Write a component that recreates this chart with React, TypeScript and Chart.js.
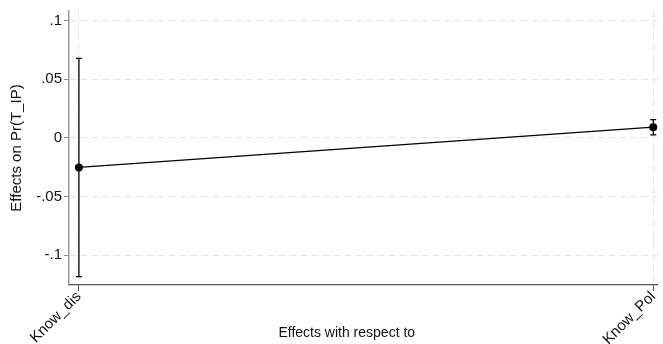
import React, { useEffect, useRef } from "react";
import { Chart, registerables } from "chart.js";

Chart.register(...registerables);

const categories = ["Know_dis", "Know_Pol"];
const effects = [-0.0253, 0.009];
const ciLower = [-0.1183, 0.0025];
const ciUpper = [0.0677, 0.0155];
const yTickValues = [-0.1, -0.05, 0, 0.05, 0.1];
const yTickLabels = ["-.1", "-.05", "0", ".05", ".1"];
const xTitle = "Effects with respect to";
const yTitle = "Effects on Pr(T_IP)";

const FONT = "'Liberation Sans', Arial, Helvetica, sans-serif";

const errorBarPlugin = {
  id: "errorBars",
  afterDatasetsDraw(chart: any) {
    const xs = chart.scales.x;
    const ys = chart.scales.y;
    const ctx = chart.ctx;
    ctx.save();
    ctx.strokeStyle = "#000";
    ctx.lineWidth = 1.3;
    const cap = 3;
    categories.forEach((_, i) => {
      const px = xs.getPixelForValue(i);
      const pLo = ys.getPixelForValue(ciLower[i]);
      const pHi = ys.getPixelForValue(ciUpper[i]);
      ctx.beginPath();
      ctx.moveTo(px, pLo);
      ctx.lineTo(px, pHi);
      ctx.moveTo(px - cap, pLo);
      ctx.lineTo(px + cap, pLo);
      ctx.moveTo(px - cap, pHi);
      ctx.lineTo(px + cap, pHi);
      ctx.stroke();
    });
    ctx.restore();
  },
};

const xTitlePlugin = {
  id: "xTitle",
  afterDraw(chart: any) {
    const ctx = chart.ctx;
    ctx.save();
    ctx.font = `14px ${FONT}`;
    ctx.fillStyle = "#111";
    ctx.textAlign = "center";
    ctx.textBaseline = "middle";
    ctx.fillText(xTitle, chart.width * 0.523, chart.height - 10.5);
    ctx.restore();
  },
};

export default function App() {
  const ref = useRef<HTMLCanvasElement | null>(null);

  useEffect(() => {
    if (!ref.current) return;
    Chart.defaults.font.family = FONT;
    Chart.defaults.color = "#111";
    const chart = new Chart(ref.current, {
      type: "line",
      data: {
        datasets: [
          {
            data: effects.map((v, i) => ({ x: i, y: v })),
            borderColor: "#000",
            borderWidth: 1.3,
            pointRadius: 4,
            pointBackgroundColor: "#000",
            pointBorderColor: "#000",
            pointBorderWidth: 0,
            tension: 0,
            clip: false as any,
          },
        ],
      },
      options: {
        animation: false,
        responsive: false,
        maintainAspectRatio: false,
        layout: { padding: { top: 10, left: 0, right: 0, bottom: 0 } },
        plugins: {
          legend: { display: false },
          tooltip: { enabled: false },
        },
        scales: {
          x: {
            type: "linear",
            min: -0.01724,
            max: 1.0069,
            afterBuildTicks: (scale: any) => {
              scale.ticks = categories.map((_, i) => ({ value: i }));
            },
            afterFit: (scale: any) => {
              scale.height = 59;
            },
            ticks: {
              autoSkip: false,
              minRotation: 45,
              maxRotation: 45,
              padding: -3,
              font: { size: 15, family: FONT },
              color: "#111",
              callback: (v: any) => categories[Math.round(Number(v))] ?? "",
            },
            grid: {
              color: "#e4e4e4",
              lineWidth: 1,
              tickColor: "#555",
              tickLength: 6,
              tickWidth: 1,
            },
            border: { color: "#555", width: 1.3, dash: [7, 4] },
            title: { display: false },
          },
          y: {
            type: "linear",
            min: -0.1255,
            max: 0.108,
            afterBuildTicks: (scale: any) => {
              scale.ticks = yTickValues.map((v) => ({ value: v }));
            },
            afterFit: (scale: any) => {
              scale.width = 69;
            },
            ticks: {
              padding: 2,
              font: { size: 15, family: FONT },
              color: "#111",
              callback: (v: any) => {
                const idx = yTickValues.findIndex((t) => Math.abs(t - Number(v)) < 1e-9);
                return idx >= 0 ? yTickLabels[idx] : "";
              },
            },
            grid: {
              color: "#e4e4e4",
              lineWidth: 1,
              tickColor: "#888",
              tickLength: 5,
              tickWidth: 1,
            },
            border: { color: "#999", width: 1.5, dash: [7, 4] },
            title: {
              display: true,
              text: yTitle,
              font: { size: 15, family: FONT },
              color: "#111",
              padding: { top: 8, bottom: 0 },
            },
          },
        },
      },
      plugins: [errorBarPlugin, xTitlePlugin],
    });
    return () => chart.destroy();
  }, []);

  return (
    <div style={{ position: "fixed", left: 0, top: 0, width: 663, height: 344, background: "#fff" }}>
      <canvas ref={ref} width={663} height={344} style={{ width: 663, height: 344 }} />
    </div>
  );
}
